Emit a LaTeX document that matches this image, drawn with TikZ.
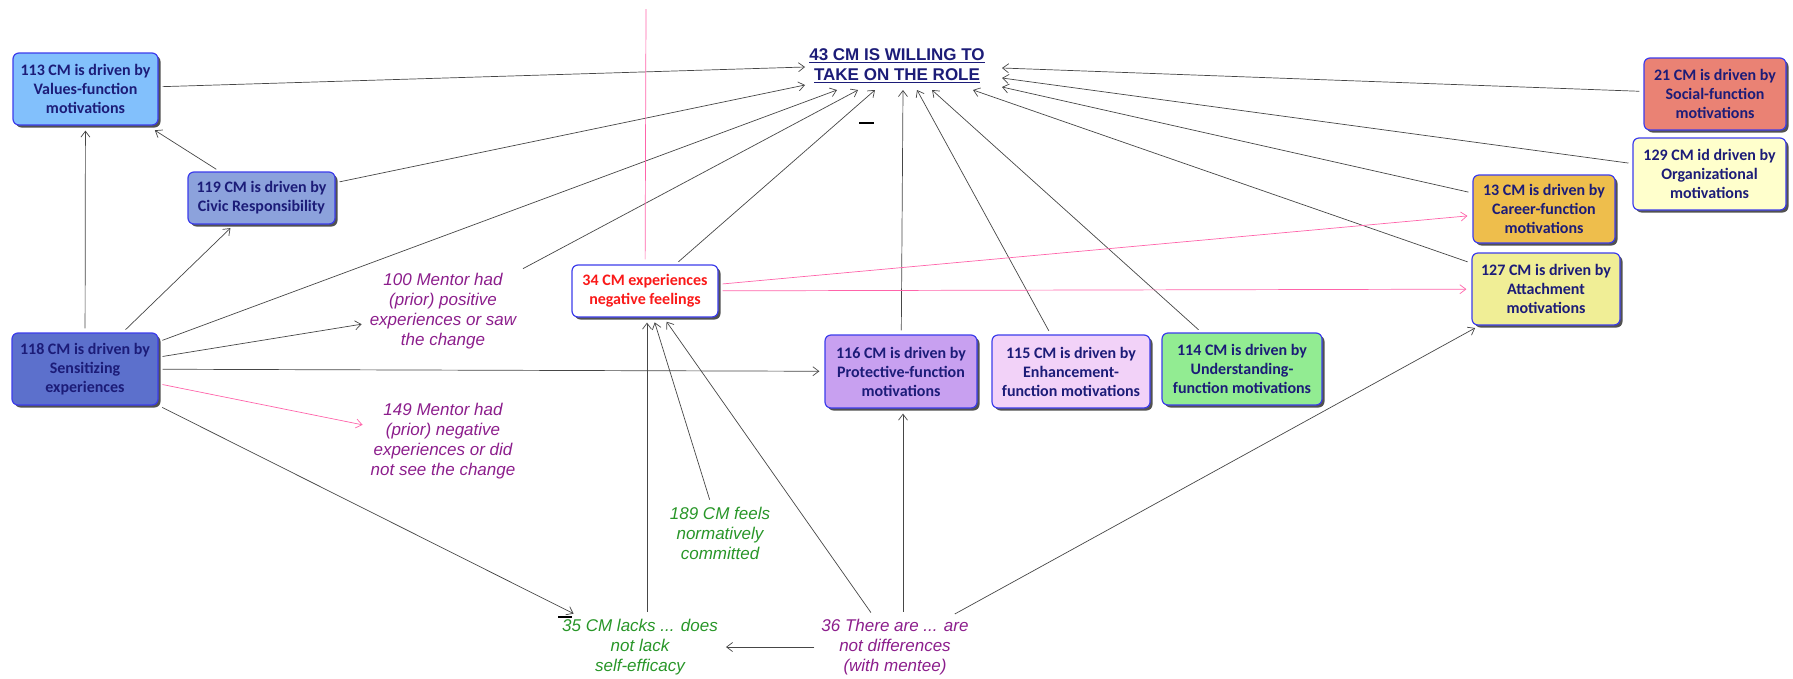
\documentclass[tikz,border=0pt]{standalone}
\usepackage{fontspec}
\setmainfont{Carlito}
\newfontfamily\arialfont{Liberation Sans}
\usetikzlibrary{arrows.meta,shadows,calc}

\definecolor{navy}{RGB}{28,28,120}
\definecolor{bord}{RGB}{60,60,235}
\definecolor{c113}{RGB}{130,192,252}
\definecolor{c119}{RGB}{140,162,220}
\definecolor{c118}{RGB}{92,112,204}
\definecolor{c21}{RGB}{234,130,116}
\definecolor{c129}{RGB}{255,255,204}
\definecolor{c13}{RGB}{238,190,76}
\definecolor{c127}{RGB}{240,238,150}
\definecolor{c116}{RGB}{200,160,240}
\definecolor{c115}{RGB}{242,210,248}
\definecolor{c114}{RGB}{146,236,146}
\definecolor{purp}{RGB}{140,30,140}
\definecolor{grn}{RGB}{40,150,40}
\definecolor{pinkl}{RGB}{255,100,170}
\definecolor{edgec}{RGB}{70,70,70}
\definecolor{redt}{RGB}{250,25,25}

\newcommand\myul[1]{\setbox0\hbox{#1}\rlap{\rule[-3pt]{\wd0}{1.6pt}}\box0}

\tikzset{
 box/.style={draw=bord, line width=1.2pt, rounded corners=6pt, align=center, text=navy,
   font=\fontsize{16}{19}\selectfont\bfseries, inner sep=2pt,
   drop shadow={shadow xshift=2.5pt, shadow yshift=-2.5pt, opacity=0.85, fill=black!80}},
 itxt/.style={align=center, font=\arialfont\itshape\fontsize{17}{20}\selectfont, inner sep=3pt},
 e/.style={draw=edgec, line width=0.7pt, -{Straight Barb[length=6pt,width=9pt]}, shorten >=5pt, shorten <=4pt},
 et/.style={e, shorten >=0pt},
 pe/.style={e, draw=pinkl},
 markbar/.style={inner sep=0pt, fill=black},
}

\begin{document}
\begin{tikzpicture}[x=1pt,y=-1pt]
\useasboundingbox (0,0) rectangle (1793,678);

% title
\node[align=center, text=navy, inner sep=0pt, font=\arialfont\bfseries\fontsize{17}{20}\selectfont] (t) at (897,66)
  {\myul{43 CM IS WILLING TO}\\\myul{TAKE ON THE ROLE}};
\node[markbar, minimum width=15pt, minimum height=2.2pt] (d1) at (866,123) {};

% boxes
\node[box, fill=c113, minimum width=145pt, minimum height=72pt] (n113) at (85.5,89) {113 CM is driven by\\Values-function\\motivations};
\node[box, fill=c119, minimum width=147pt, minimum height=52pt] (n119) at (261.5,198) {119 CM is driven by\\Civic Responsibility};
\node[box, fill=c118, minimum width=146pt, minimum height=72pt] (n118) at (85,369) {118 CM is driven by\\Sensitizing\\experiences};
\node[box, fill=c21, minimum width=142pt, minimum height=72pt] (n21) at (1715,94) {21 CM is driven by\\Social-function\\motivations};
\node[box, fill=c129, minimum width=153pt, minimum height=72pt] (n129) at (1709.5,174) {129 CM id driven by\\Organizational\\motivations};
\node[box, fill=c13, minimum width=142pt, minimum height=68pt] (n13) at (1544,209) {13 CM is driven by\\Career-function\\motivations};
\node[box, fill=c127, minimum width=148pt, minimum height=72pt] (n127) at (1546,289) {127 CM is driven by\\Attachment\\motivations};
\node[box, fill=white, text=redt, minimum width=146pt, minimum height=52pt] (n34) at (645,291) {34 CM experiences\\negative feelings};
\node[box, fill=c116, minimum width=152pt, minimum height=73pt] (n116) at (901,371.5) {116 CM is driven by\\Protective-function\\motivations};
\node[box, fill=c115, minimum width=158pt, minimum height=73pt] (n115) at (1071,371.5) {115 CM is driven by\\Enhancement-\\function motivations};
\node[box, fill=c114, minimum width=160pt, minimum height=72pt] (n114) at (1242,369) {114 CM is driven by\\Understanding-\\function motivations};

% italic texts
\node[itxt, text=purp] (n100) at (443,311) {100 Mentor had\\(prior) positive\\experiences or saw\\the change};
\node[itxt, text=purp] (n149) at (443,441) {149 Mentor had\\(prior) negative\\experiences or did\\not see the change};
\node[itxt, text=grn] (n189) at (720,533) {189 CM feels\\normatively\\committed};
\node[itxt, text=grn] (n35) at (640,647) {35 CM lacks ... does\\not lack\\self-efficacy};
\node[itxt, text=purp] (n36) at (895,647) {36 There are ... are\\not differences\\(with mentee)};
\node[markbar, minimum width=14pt, minimum height=2pt] (d2) at (565,617) {};

% edges into title
\draw[et] (n113) -- ($(t)+(-92,1)$);
\draw[et] (n119) -- ($(t)+(-92,19)$);
\draw[et] (n118) -- ($(t)+(-60,24)$);
\draw[et] (n100) -- ($(t)+(-39,24)$);
\draw[et] (n34) -- ($(t)+(-22,24)$);
\draw[et] (n116) -- ($(t)+(6,24)$);
\draw[et] (n115) -- ($(t)+(20,24)$);
\draw[et] (n114) -- ($(t)+(35,24)$);
\draw[et] (n127) -- ($(t)+(76,24)$);
\draw[et] (n13) -- ($(t)+(105,21)$);
\draw[et] (n129) -- ($(t)+(105,12)$);
\draw[et] (n21) -- ($(t)+(105,2)$);

% other edges
\draw[e] (n119) -- ($(n113.south east)+(-8,2)$);
\draw[e] (n118) -- (n113);
\draw[e] (n118) -- (n119);
\draw[e] (n118) -- (n100);
\draw[e] (n118) -- (n116);
\draw[pe] (n118) -- (n149);
\draw[e] (n118) -- (n35);
\draw[e] ($(n35.north)+(7,0)$) -- ($(n34.south)+(2,0)$);
\draw[e] (n189) -- (n34);
\draw[e] (n36) -- (n34);
\draw[e] ($(n36.north)+(8,0)$) -- ($(n116.south)+(2,0)$);
\draw[e] (n36) -- (n127);
\draw[e] (n36) -- (n35);
\draw[pe] (n34) -- (n13);
\draw[pe] (n34) -- (n127);
\coordinate (ptop) at (646,9);
\draw[draw=pinkl, line width=0.7pt, shorten >=5pt] (ptop) -- (n34);
\end{tikzpicture}
\end{document}
